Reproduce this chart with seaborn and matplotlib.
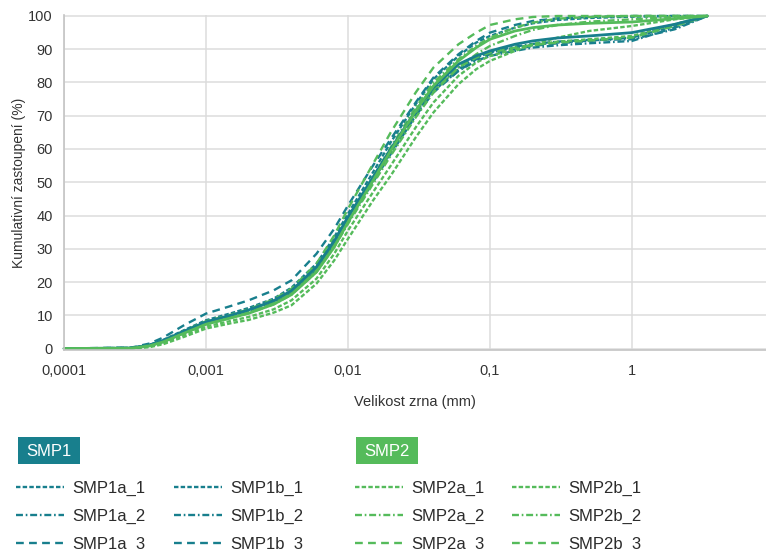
import pandas as pd
import seaborn as sns
import matplotlib.pyplot as plt
from matplotlib.patches import Rectangle
from matplotlib.ticker import NullLocator

# Velikost zrna (mm) - spolecna osa pro vsechny krivky
velikost = [0.0001, 0.0003, 0.0004, 0.0005, 0.0007, 0.001, 0.0015, 0.002, 0.003, 0.004,
            0.006, 0.008, 0.01, 0.015, 0.02, 0.03, 0.04, 0.06, 0.08, 0.1,
            0.15, 0.2, 0.3, 0.5, 1, 2, 3.4]

# Kumulativni zastoupeni (%) - SMP1
smp1a_1 = [0, 0.1, 0.9, 2.2, 5.0, 7.8, 9.8, 11.3, 14.0, 17.0, 24.0, 31.5, 38.5, 50.5, 59.0, 70.5, 77.5,
           84.0, 87.5, 89.0, 90.5, 91.3, 92.0, 92.6, 93.5, 97.0, 100]
smp1a_2 = [0, 0.2, 1.0, 2.4, 5.2, 8.0, 10.0, 11.5, 14.3, 17.3, 24.5, 32.5, 39.5, 51.5, 60.0, 71.0, 77.5,
           83.5, 86.5, 88.0, 89.5, 90.5, 91.2, 91.8, 92.5, 96.5, 100]
smp1a_3 = [0, 0.1, 0.8, 2.0, 4.7, 7.4, 9.4, 10.9, 13.6, 16.6, 23.5, 31.0, 38.0, 50.0, 58.5, 70.0, 77.0,
           83.5, 87.0, 88.5, 90.0, 91.0, 91.8, 92.5, 93.5, 97.5, 100]
smp1b_1 = [0, 0.2, 1.1, 2.6, 5.5, 8.5, 10.6, 12.2, 15.0, 18.3, 25.5, 33.5, 40.5, 53.0, 62.0, 73.5, 81.0,
           88.0, 92.0, 94.0, 96.5, 97.8, 98.8, 99.4, 99.8, 100, 100]
smp1b_2 = [0, 0.1, 0.9, 2.2, 5.0, 7.8, 9.7, 11.2, 14.0, 17.0, 24.0, 31.8, 39.0, 51.0, 59.5, 71.0, 78.0,
           84.5, 87.8, 89.2, 90.8, 91.6, 92.3, 92.8, 93.0, 96.0, 100]
smp1b_3 = [0, 0.3, 1.5, 3.3, 7.0, 10.5, 12.8, 14.5, 17.5, 20.5, 28.5, 36.0, 43.0, 55.0, 63.0, 74.0, 81.5,
           88.5, 92.5, 95.0, 97.3, 98.5, 99.3, 99.7, 100, 100, 100]
smp1_prumer = [0, 0.1, 1.0, 2.4, 5.2, 8.0, 10.0, 11.6, 14.4, 17.4, 24.5, 32.3, 39.5, 51.5, 60.0, 71.5, 78.5,
               85.5, 88.0, 89.5, 91.5, 92.5, 93.4, 94.0, 95.0, 97.5, 100]

# Kumulativni zastoupeni (%) - SMP2
smp2a_1 = [0, 0.0, 0.4, 1.3, 3.5, 6.0, 7.6, 8.6, 10.8, 13.0, 19.5, 26.5, 33.0, 44.5, 52.0, 63.5, 71.0,
           79.5, 84.0, 86.5, 89.5, 91.5, 93.5, 95.5, 97.0, 99.0, 100]
smp2a_2 = [0, 0.1, 0.8, 2.0, 4.8, 7.6, 9.6, 11.0, 13.8, 16.8, 23.8, 31.5, 39.0, 51.5, 60.5, 72.5, 80.0,
           87.0, 91.0, 93.5, 96.5, 98.0, 99.2, 99.7, 100, 100, 100]
smp2a_3 = [0, 0.1, 0.9, 2.2, 5.0, 7.8, 9.8, 11.3, 14.2, 17.2, 24.3, 32.0, 39.5, 51.5, 60.0, 71.0, 78.0,
           84.5, 87.5, 89.0, 90.5, 91.3, 92.0, 92.6, 93.5, 97.0, 100]
smp2b_1 = [0, 0.1, 0.6, 1.6, 4.0, 6.6, 8.3, 9.5, 11.8, 14.5, 21.0, 28.5, 35.5, 47.0, 55.0, 66.5, 74.0,
           82.0, 86.0, 88.0, 90.0, 91.2, 92.3, 93.0, 94.0, 97.5, 100]
smp2b_2 = [0, 0.1, 0.8, 2.0, 4.7, 7.3, 9.2, 10.6, 13.3, 16.2, 23.0, 30.5, 37.5, 49.5, 58.0, 69.5, 77.0,
           84.5, 88.5, 91.0, 94.0, 95.8, 97.3, 98.3, 99.0, 99.7, 100]
smp2b_3 = [0, 0.1, 1.0, 2.4, 5.3, 8.2, 10.2, 11.8, 14.8, 18.0, 25.5, 34.0, 42.0, 55.5, 65.0, 77.0, 84.5,
           91.5, 95.0, 97.3, 99.0, 99.7, 100, 100, 100, 100, 100]
smp2_prumer = [0, 0.1, 0.8, 2.0, 4.6, 7.3, 9.2, 10.6, 13.3, 16.2, 23.0, 30.5, 38.0, 50.5, 59.5, 71.5, 79.0,
               86.5, 90.5, 93.0, 95.5, 96.5, 97.3, 97.8, 98.2, 99.2, 100]

x_ticky = [0.0001, 0.001, 0.01, 0.1, 1]
x_popisky = ["0,0001", "0,001", "0,01", "0,1", "1"]
y_ticky = list(range(0, 101, 10))

TEAL = "#187f8d"
ZELENA = "#55bb5b"

# styly car (v bodech, bez skalovani tloustkou)
TECKY = (0, (3.2, 1.6))
CARKA_TECKA = (0, (5.0, 2.0, 1.2, 2.0))
CARKY = (0, (5.6, 3.8))

serie = [
    ("SMP1a_1", smp1a_1, TEAL, TECKY),
    ("SMP1a_2", smp1a_2, TEAL, CARKA_TECKA),
    ("SMP1a_3", smp1a_3, TEAL, CARKY),
    ("SMP1b_1", smp1b_1, TEAL, TECKY),
    ("SMP1b_2", smp1b_2, TEAL, CARKA_TECKA),
    ("SMP1b_3", smp1b_3, TEAL, CARKY),
    ("SMP2a_1", smp2a_1, ZELENA, TECKY),
    ("SMP2a_2", smp2a_2, ZELENA, CARKA_TECKA),
    ("SMP2a_3", smp2a_3, ZELENA, CARKY),
    ("SMP2b_1", smp2b_1, ZELENA, TECKY),
    ("SMP2b_2", smp2b_2, ZELENA, CARKA_TECKA),
    ("SMP2b_3", smp2b_3, ZELENA, CARKY),
]

sns.set_theme(style="white")
plt.rcParams['font.family'] = ['Liberation Sans', 'DejaVu Sans']
plt.rcParams['lines.scale_dashes'] = False

fig = plt.figure(figsize=(7.66, 5.51), dpi=100)
ax = fig.add_axes([64 / 766, 1 - 350 / 551, (766 - 64) / 766, 335 / 551])

handles = {}
for nazev, hodnoty, barva, styl in serie:
    df = pd.DataFrame({"velikost": velikost, "podil": hodnoty})
    sns.lineplot(data=df, x="velikost", y="podil", ax=ax, color=barva, linewidth=1.7,
                 linestyle=styl, legend=False, clip_on=False)
    handles[nazev] = ax.lines[-1]

# prumerne krivky (plne)
for hodnoty, barva in [(smp1_prumer, TEAL), (smp2_prumer, ZELENA)]:
    df = pd.DataFrame({"velikost": velikost, "podil": hodnoty})
    sns.lineplot(data=df, x="velikost", y="podil", ax=ax, color=barva, linewidth=2.0,
                 legend=False, clip_on=False)

ax.set_xscale("log")
ax.set_xlim(0.0001, 10 ** 0.944)
ax.set_ylim(-0.45, 100.3)
ax.set_xticks(x_ticky)
ax.set_xticklabels(x_popisky)
ax.xaxis.set_minor_locator(NullLocator())
ax.set_yticks(y_ticky)
ax.grid(True, color="#dcdcdc", linewidth=1.1)
ax.set_axisbelow(True)

for s in ["top", "right"]:
    ax.spines[s].set_visible(False)
for s in ["left", "bottom"]:
    ax.spines[s].set_color("#c4c4c4")
    ax.spines[s].set_linewidth(1.2)

ax.tick_params(axis="both", length=4, width=1, color="#c4c4c4", labelsize=10.5,
               labelcolor="#333333", pad=4)
ax.tick_params(axis="x", pad=6)

ax.set_xlabel("Velikost zrna (mm)", fontsize=10.5, color="#333333", labelpad=12)
ax.set_ylabel("Kumulativní zastoupení (%)", fontsize=10, color="#333333", labelpad=1.5)

# legenda - hlavicky skupin
leg_font = ['Liberation Sans Narrow', 'Liberation Sans', 'DejaVu Sans']
for x0, barva, text in [(18, TEAL, "SMP1"), (356, ZELENA, "SMP2")]:
    fig.patches.append(Rectangle((x0 / 766, 1 - 464 / 551), 62 / 766, 27 / 551,
                                 transform=fig.transFigure, facecolor=barva, edgecolor="none"))
    fig.text((x0 + 31) / 766, 1 - 451 / 551, text, color="white", fontsize=12,
             ha="center", va="center", family=leg_font)

# legenda - sloupce
sloupce = [
    (16, ["SMP1a_1", "SMP1a_2", "SMP1a_3"]),
    (174, ["SMP1b_1", "SMP1b_2", "SMP1b_3"]),
    (355, ["SMP2a_1", "SMP2a_2", "SMP2a_3"]),
    (512, ["SMP2b_1", "SMP2b_2", "SMP2b_3"]),
]
for x0, nazvy in sloupce:
    leg = fig.legend([handles[n] for n in nazvy], nazvy, loc="upper left",
                     bbox_to_anchor=(x0 / 766, 1 - 481 / 551), frameon=False,
                     borderpad=0, borderaxespad=0, handlelength=2.85, handletextpad=0.5,
                     labelspacing=0.77, prop={"family": leg_font, "size": 12})
    for t in leg.get_texts():
        t.set_color("#2b2b2b")

fig.savefig("out.png", dpi=100)
